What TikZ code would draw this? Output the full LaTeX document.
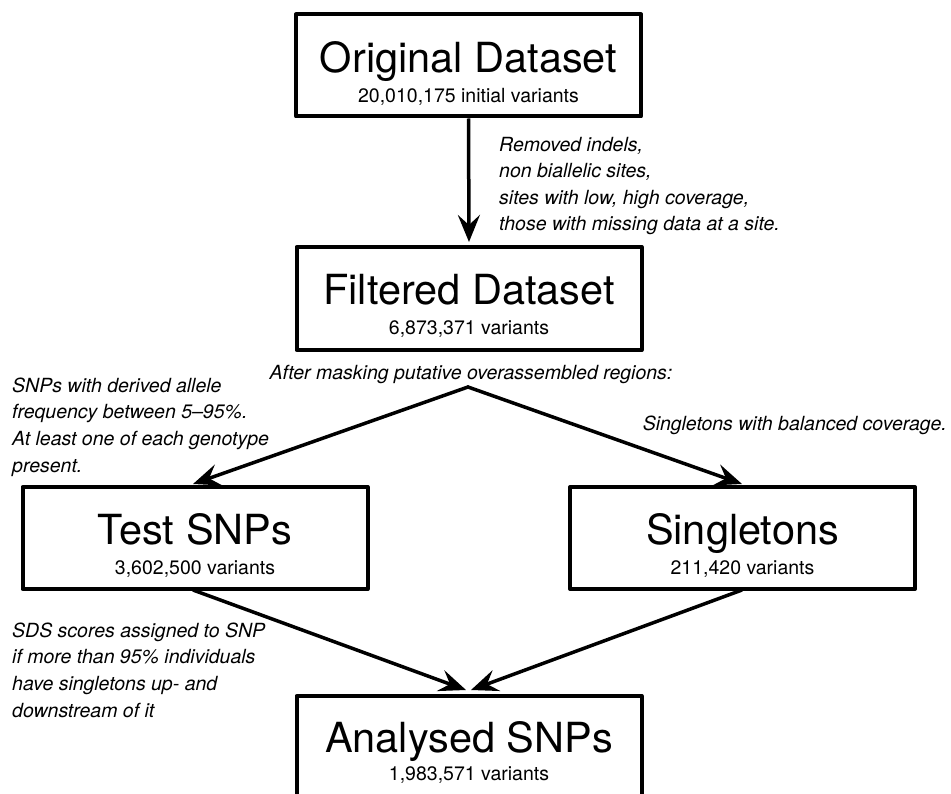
\documentclass[tikz,border=0pt]{standalone}
\usepackage{fontspec}
\setmainfont{TeX Gyre Heros}
\usetikzlibrary{arrows.meta}

\tikzset{
    stagebox/.style={draw,line width=4pt,line join=round,minimum width=345pt,minimum height=102pt,inner sep=0pt},
    stagename/.style={anchor=base,inner sep=0pt,font=\fontsize{41.5}{48}\selectfont},
    stagecount/.style={anchor=base,inner sep=0pt,font=\fontsize{19.5}{24}\selectfont},
    note/.style={inner sep=0pt,align=left,font=\fontsize{19.5}{26.6}\selectfont\itshape},
    flow/.style={line width=3.5pt,-{Stealth[length=27pt,width=22pt,inset=10pt]}}
}

\begin{document}
\begin{tikzpicture}[x=1pt,y=-1pt]
        \useasboundingbox (0,0) rectangle (951,794);

        % Original
        \node[stagebox] (orig) at (468.5,65.5) {};
        \node[stagename] (origT) at ([yshift=-60pt]orig.north) {Original Dataset};
        \node[stagecount] (origC) at ([yshift=-90pt]orig.north) {20,010,175 initial variants};

        % Filtered
        \node[stagebox,minimum height=103pt] (filt) at (469,298.5) {};
        \node[stagename] (filtT) at ([yshift=-60pt]filt.north) {Filtered Dataset};
        \node[stagecount] (filtC) at ([yshift=-90pt]filt.north) {6,873,371 variants};

        % Test SNPs
        \node[stagebox] (test) at (195,538) {};
        \node[stagename] (testT) at ([yshift=-59pt]test.north) {Test SNPs};
        \node[stagecount] (testC) at ([yshift=-89pt]test.north) {3,602,500 variants};

        % Singletons
        \node[stagebox] (single) at (742.5,538) {};
        \node[stagename] (singleT) at ([yshift=-59pt]single.north) {Singletons};
        \node[stagecount] (singleC) at ([yshift=-89pt]single.north) {211,420 variants};

        % Analysed
        \node[stagebox,minimum height=130pt,anchor=north] (anal) at (469,694) {};
        \node[stagename] (analT) at ([yshift=-58pt]anal.north) {Analysed SNPs};
        \node[stagecount] (analC) at ([yshift=-86pt]anal.north) {1,983,571 variants};

        % notes (base = last line)
        \node[note,anchor=base west] (filterNote) at (499,231) {Removed indels,\\non biallelic sites,\\sites with low, high coverage,\\those with missing data at a site.};
        \node[note,anchor=base] (maskNote) at (471,380) {After masking putative overassembled regions:};
        \node[note,anchor=base west] (testNote) at (12,472) {SNPs with derived allele\\frequency between 5--95\%.\\At least one of each genotype\\present.};
        \node[note,anchor=base east] (singleNote) at (947,431) {Singletons with balanced coverage.};
        \node[note,anchor=base west] (sdsNote) at (12,717) {SDS scores assigned to SNP\\if more than 95\% individuals\\have singletons up- and\\downstream of it};

        % arrows
        \coordinate (split) at (468,387);
        \coordinate (testIn) at (193,484);
        \coordinate (singleIn) at (742,484);
        \coordinate (testOut) at (193,590);
        \coordinate (singleOut) at (742,590);
        \coordinate (analInL) at (466,690);
        \coordinate (analInR) at (471,690);
        \draw[flow] (orig.south) -- ([yshift=3pt]filt.north);
        \draw[flow,shorten <=-1pt] (split) -- (testIn);
        \draw[flow,shorten <=-1pt] (split) -- (singleIn);
        \draw[flow] (testOut) -- (analInL);
        \draw[flow] (singleOut) -- (analInR);
    \end{tikzpicture}
\end{document}
